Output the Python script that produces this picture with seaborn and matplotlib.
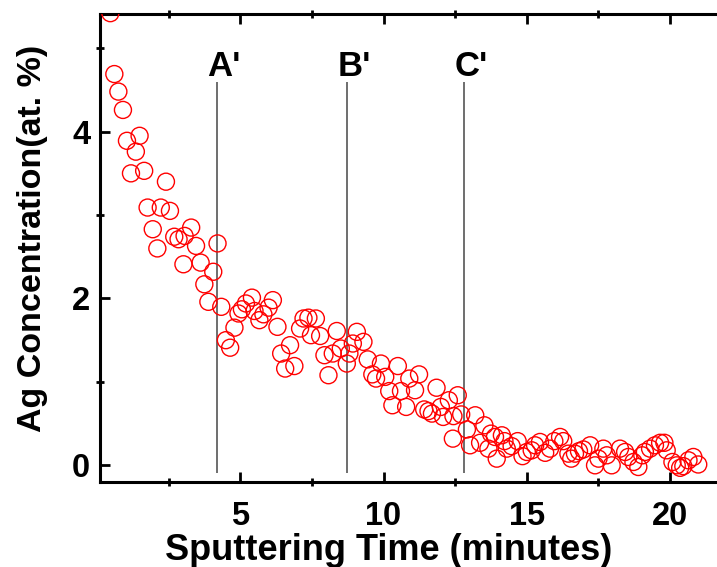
import matplotlib
matplotlib.use("Agg")
import matplotlib.pyplot as plt
import pandas as pd
import seaborn as sns
from matplotlib.ticker import MultipleLocator

# Ag depth profile: sputtering time (min) vs Ag concentration (at. %)
time_min = [
    0.47, 0.61, 0.75, 0.91, 1.05, 1.19, 1.36, 1.49, 1.65, 1.77,
    1.95, 2.11, 2.23, 2.41, 2.55, 2.70, 2.85, 3.02, 3.06, 3.29,
    3.46, 3.62, 3.75, 3.89, 4.06, 4.21, 4.34, 4.50, 4.65, 4.80,
    4.94, 5.06, 5.20, 5.41, 5.50, 5.67, 5.81, 5.99, 6.14, 6.30,
    6.43, 6.57, 6.74, 6.89, 7.09, 7.21, 7.38, 7.47, 7.64, 7.79,
    7.94, 8.08, 8.23, 8.37, 8.51, 8.72, 8.81, 8.93, 9.07, 9.30,
    9.45, 9.61, 9.74, 9.91, 10.06, 10.20, 10.31, 10.50, 10.61, 10.79,
    10.90, 11.10, 11.24, 11.42, 11.57, 11.69, 11.85, 12.00, 12.08, 12.28,
    12.42, 12.44, 12.59, 12.71, 12.91, 13.02, 13.20, 13.37, 13.52, 13.66,
    13.75, 13.89, 13.95, 14.13, 14.22, 14.30, 14.47, 14.68, 14.85, 15.00,
    15.17, 15.29, 15.46, 15.64, 15.81, 15.96, 16.16, 16.27, 16.45, 16.55,
    16.68, 16.82, 16.97, 17.21, 17.38, 17.50, 17.67, 17.79, 17.96, 18.25,
    18.43, 18.54, 18.72, 18.89, 19.03, 19.12, 19.30, 19.47, 19.65, 19.80,
    19.88, 20.08, 20.23, 20.35, 20.46, 20.64, 20.81, 20.98,
]
ag_conc = [
    5.42, 4.69, 4.48, 4.26, 3.89, 3.50, 3.76, 3.95, 3.53, 3.09,
    2.83, 2.60, 3.09, 3.40, 3.05, 2.74, 2.71, 2.41, 2.75, 2.85,
    2.63, 2.43, 2.17, 1.96, 2.32, 2.66, 1.90, 1.50, 1.41, 1.65,
    1.82, 1.87, 1.94, 2.01, 1.85, 1.74, 1.81, 1.89, 1.98, 1.66,
    1.34, 1.16, 1.44, 1.19, 1.64, 1.76, 1.77, 1.56, 1.76, 1.55,
    1.32, 1.08, 1.34, 1.61, 1.40, 1.22, 1.34, 1.46, 1.60, 1.48,
    1.27, 1.09, 1.04, 1.22, 1.06, 0.89, 0.72, 1.19, 0.89, 0.70,
    1.04, 0.90, 1.09, 0.67, 0.65, 0.62, 0.93, 0.70, 0.58, 0.78,
    0.32, 0.59, 0.84, 0.61, 0.43, 0.24, 0.60, 0.27, 0.48, 0.20,
    0.38, 0.34, 0.08, 0.36, 0.29, 0.20, 0.23, 0.29, 0.11, 0.16,
    0.18, 0.24, 0.28, 0.15, 0.20, 0.29, 0.34, 0.29, 0.14, 0.08,
    0.14, 0.17, 0.19, 0.24, 0.00, 0.08, 0.20, 0.12, 0.00, 0.20,
    0.16, 0.10, 0.04, -0.02, 0.12, 0.16, 0.20, 0.24, 0.27, 0.27,
    0.18, 0.04, 0.00, -0.03, -0.01, 0.06, 0.10, 0.01,
]

# Interface markers
marker_times = [4.19, 8.72, 12.81]
marker_labels = ["A'", "B'", "C'"]

sns.set_style("ticks")
plt.rcParams["font.family"] = ["Liberation Sans", "DejaVu Sans"]
plt.rcParams["font.weight"] = "bold"
plt.rcParams["axes.labelweight"] = "bold"
plt.rcParams["text.color"] = "black"
plt.rcParams["axes.labelcolor"] = "black"
plt.rcParams["xtick.color"] = "black"
plt.rcParams["ytick.color"] = "black"

fig = plt.figure(figsize=(7.17, 5.67), dpi=100)
ax = fig.add_axes([0.1395, 0.1499, 0.8751, 0.8254])

df = pd.DataFrame({"time": time_min, "ag": ag_conc})
sns.scatterplot(
    data=df, x="time", y="ag", ax=ax, marker="o", s=150,
    color="red", facecolor="none", edgecolor="red", linewidth=1.0,
    legend=False, zorder=3,
)

ax.vlines(marker_times, -0.09, 4.6, colors="#555555", linewidth=1.2, zorder=2)
for t, lab in zip(marker_times, marker_labels):
    ax.text(t - 0.33, 4.67, lab, fontsize=25, fontweight="bold",
            ha="left", va="baseline", color="black")

ax.set_xlim(0.11, 22.0)
ax.set_ylim(-0.2, 5.41)
ax.xaxis.set_major_locator(MultipleLocator(5))
ax.xaxis.set_minor_locator(MultipleLocator(2.5))
ax.yaxis.set_major_locator(MultipleLocator(2))
ax.yaxis.set_minor_locator(MultipleLocator(1))

for side in ["left", "bottom", "top", "right"]:
    ax.spines[side].set_linewidth(2.2)
    ax.spines[side].set_color("black")

ax.tick_params(axis="both", which="major", direction="in", length=7, width=2,
               labelsize=23.5, colors="black")
ax.tick_params(axis="both", which="minor", direction="inout", length=6, width=2)
ax.tick_params(axis="x", which="major", pad=14)
ax.tick_params(axis="y", which="major", pad=7)
ax.tick_params(axis="x", which="both", top=True, labeltop=False)
for lbl in ax.get_xticklabels() + ax.get_yticklabels():
    lbl.set_fontweight("bold")

ax.set_xlabel("Sputtering Time (minutes)", fontsize=26, fontweight="bold")
ax.set_ylabel("Ag Concentration(at. %)", fontsize=24.5, fontweight="bold")
ax.xaxis.set_label_coords((388.5 - 100) / 627.4, -(533 - 482) / 468)
ax.yaxis.set_label_coords((48 - 100) / 627.4, (482 - 238) / 468)

fig.savefig("out.png", dpi=100)
